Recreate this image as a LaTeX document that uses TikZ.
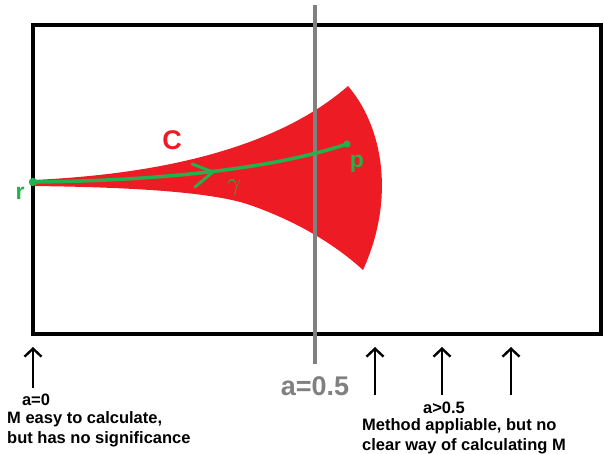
\documentclass[tikz,border=0pt]{standalone}
\usepackage{fontspec}
\setmainfont{Liberation Sans}
\usetikzlibrary{arrows.meta}
\definecolor{paintred}{RGB}{237,28,36}
\definecolor{paintgreen}{RGB}{34,177,76}
\definecolor{linegray}{RGB}{128,128,128}
\tikzset{
  frame/.style={draw=black, line width=4pt},
  divider/.style={draw=linegray, line width=3.5pt},
  uparrow/.style={draw=black, line width=2.4pt, -{Straight Barb[length=8pt,width=17pt,line width=2.4pt]}},
  pathline/.style={draw=paintgreen, line width=3.5pt, line cap=round},
  lbl/.style={font=\bfseries\fontsize{16.5}{20}\selectfont, inner sep=0pt, anchor=base west},
  lblc/.style={font=\bfseries\fontsize{16.5}{20}\selectfont, inner sep=0pt, anchor=base},
}
\begin{document}
\begin{tikzpicture}[x=1pt,y=-1pt]
\useasboundingbox (0,0) rectangle (604,454);
% red region C
\fill[paintred] (33,180) .. controls (210,172) and (300,128) .. (348,86)
  .. controls (384,128) and (395,200) .. (363,270)
  .. controls (330,240) and (290,219) .. (250,205)
  .. controls (210,191) and (120,187) .. (33,186) -- cycle;
% frame
\draw[frame] (33,25) rectangle (601,334);
% divider a = 0.5
\coordinate (divtop) at (315,5);
\coordinate (divbot) at (315,364);
\draw[divider] (divtop) -- (divbot);
% green path gamma
\coordinate (R) at (33,182);
\coordinate (P) at (347,144);
\draw[pathline] (R) .. controls (150,181) and (270,170) .. (P);
\fill[paintgreen] (R) circle[radius=4.2];
\fill[paintgreen] (P) circle[radius=3.6];
\coordinate (chevtip) at (213,172);
\coordinate (chevA) at (192,164);
\coordinate (chevB) at (195,187);
\draw[pathline, line width=3pt, line join=round] (chevA) -- (chevtip) -- (chevB);
% labels
\node[font=\bfseries\fontsize{27}{30}\selectfont, text=paintred, inner sep=0pt] (labC) at (172,140) {C};
\node[font=\bfseries\fontsize{23}{26}\selectfont, text=paintgreen, inner sep=0pt, anchor=base] (labr) at (20,200) {r};
\node[font=\bfseries\fontsize{23}{26}\selectfont, text=paintgreen, inner sep=0pt, anchor=base] (labp) at (357,168) {p};
\node[font=\fontsize{28}{30}\selectfont, text=paintgreen, inner sep=0pt] (labg) at (234,188) {$\gamma$};
\node[font=\bfseries\fontsize{27}{30}\selectfont, text=linegray, inner sep=0pt, anchor=base] (labhalf) at (315,395) {a=0.5};
% arrows
\coordinate (a0s) at (33,388); \coordinate (a0e) at (33,347);
\coordinate (a1s) at (375,395); \coordinate (a1e) at (375,347);
\coordinate (a2s) at (442,395); \coordinate (a2e) at (442,347);
\coordinate (a3s) at (511,395); \coordinate (a3e) at (511,347);
\draw[uparrow] (a0s) -- (a0e);
\draw[uparrow] (a1s) -- (a1e);
\draw[uparrow] (a2s) -- (a2e);
\draw[uparrow] (a3s) -- (a3e);
% texts
\node[lblc] (t0) at (36,405) {a=0};
\node[lbl] (t1) at (7,423) {M easy to calculate,};
\node[lbl] (t2) at (7,443) {but has no significance};
\node[lblc] (t3) at (444,413) {a>0.5};
\node[lbl] (t4) at (362,430) {Method appliable, but no};
\node[lbl] (t5) at (362,450) {clear way of calculating M};
\end{tikzpicture}
\end{document}
